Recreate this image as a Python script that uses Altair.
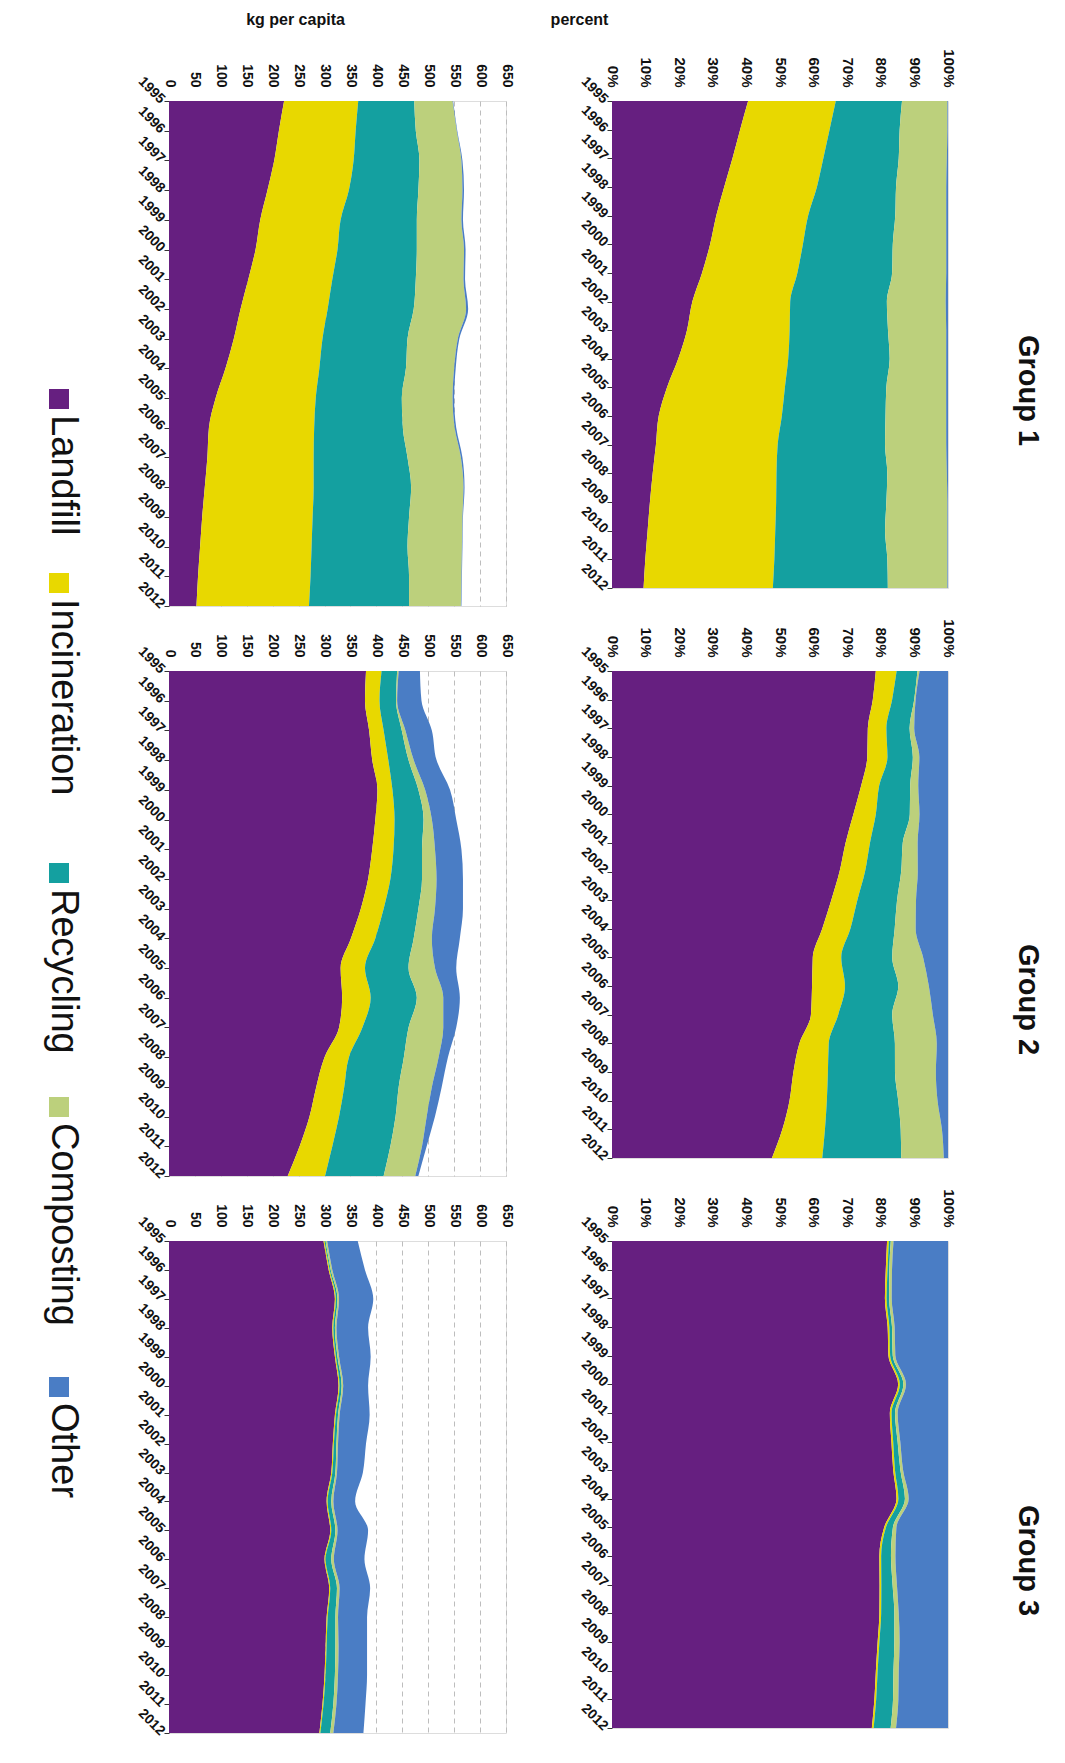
import altair as alt
import pandas as pd

years = list(range(1995, 2013))
categories = ["Landfill", "Incineration", "Recycling", "Composting", "Other"]
palette = ["#661f80", "#e8d800", "#14a0a0", "#bcd07c", "#4a7dc5"]
group_names = ["Group 1", "Group 2", "Group 3"]

# kg per capita by treatment
g1_landfill = [222, 212, 203, 190, 176, 167, 153, 138, 125, 109, 90, 77, 74, 69, 64, 60, 56, 53]
g1_incineration = [143, 148, 153, 157, 155, 158, 162, 168, 171, 181, 193, 203, 205, 210, 213, 215, 217, 217]
g1_recycling = [108, 116, 127, 134, 147, 153, 161, 166, 164, 167, 166, 171, 181, 188, 186, 185, 190, 193]
g1_composting = [74, 79, 81, 85, 86, 91, 92, 101, 97, 93, 98, 100, 103, 101, 103, 105, 101, 100]
g1_other = [1, 1, 2, 3, 3, 3, 3, 4, 3, 3, 3, 3, 3, 2, 1, 1, 1, 1]

g2_landfill = [380, 378, 386, 392, 402, 398, 392, 384, 370, 351, 331, 334, 328, 300, 284, 271, 252, 229]
g2_incineration = [30, 28, 28, 31, 29, 37, 41, 43, 44, 47, 47, 55, 45, 47, 54, 57, 63, 72]
g2_recycling = [30, 32, 35, 39, 50, 56, 55, 61, 67, 74, 84, 89, 89, 106, 105, 109, 112, 113]
g2_composting = [3, 2, 7, 10, 13, 16, 25, 28, 32, 35, 51, 51, 67, 67, 64, 60, 61, 61]
g2_other = [41, 47, 51, 44, 48, 47, 51, 51, 54, 54, 41, 32, 25, 18, 19, 16, 9, 6]

g3_landfill = [298, 308, 320, 315, 320, 327, 320, 316, 313, 304, 311, 300, 309, 304, 302, 300, 296, 290]
g3_incineration = [2, 2, 2, 2, 2, 2, 2, 2, 2, 2, 2, 2, 2, 2, 2, 2, 2, 2]
g3_recycling = [2, 2, 3, 3, 3, 4, 4, 5, 6, 7, 8, 11, 13, 15, 17, 18, 19, 19]
g3_composting = [3, 3, 3, 3, 3, 3, 3, 3, 3, 4, 4, 5, 5, 5, 6, 6, 6, 6]
g3_other = [59, 63, 66, 61, 61, 48, 58, 54, 50, 42, 59, 59, 59, 56, 55, 56, 56, 58]

kg_ticks = [0, 50, 100, 150, 200, 250, 300, 350, 400, 450, 500, 550, 600, 650]
pct_ticks = [0, 0.1, 0.2, 0.3, 0.4, 0.5, 0.6, 0.7, 0.8, 0.9, 1.0]

groups = [
    [g1_landfill, g1_incineration, g1_recycling, g1_composting, g1_other],
    [g2_landfill, g2_incineration, g2_recycling, g2_composting, g2_other],
    [g3_landfill, g3_incineration, g3_recycling, g3_composting, g3_other],
]

FONT = "Liberation Sans"


def make_df(series_list):
    rows = []
    for ci, (cat, series) in enumerate(zip(categories, series_list)):
        for yr, v in zip(years, series):
            rows.append({"year": yr, "category": cat, "order": ci, "value": v})
    return pd.DataFrame(rows).sort_values(["order", "year"])


color = alt.Color("category:N", scale=alt.Scale(domain=categories, range=palette), legend=None)

year_axis = alt.Axis(
    values=years, format="d", labelAngle=45, labelAlign="right", labelBaseline="middle",
    labelFontSize=14, labelFont=FONT, labelFontWeight="bold", labelColor="#111",
    labelOverlap=False, labelPadding=2, ticks=True, tickSize=5, tickColor="#333",
    domain=False, grid=False, title=None,
)
year_enc = alt.Y("year:Q", scale=alt.Scale(domain=[1995, 2012], reverse=True, nice=False, zero=False),
                 axis=year_axis)


def kg_panel(df, first):
    axis_kw = dict(
        orient="top", values=kg_ticks, labelAngle=90, labelAlign="right", labelBaseline="middle",
        labelFontSize=14, labelFont=FONT, labelFontWeight="bold", labelColor="#111",
        labelPadding=14, labelOverlap=False, labelFlush=False, ticks=False, domain=False,
        grid=True, gridColor="#bdbdbd", gridDash=[5, 4], gridWidth=1,
    )
    if first:
        axis_kw.update(title="kg per capita", titleAngle=0, titleX=126, titleY=-82,
                       titleAlign="center", titleBaseline="middle", titleFont=FONT,
                       titleFontSize=16, titleFontWeight="bold", titleColor="#111")
    else:
        axis_kw.update(title=None)
    x = alt.X("value:Q", stack="zero", scale=alt.Scale(domain=[0, 650], nice=False),
              axis=alt.Axis(**axis_kw))
    return alt.Chart(df).mark_area(orient="horizontal", interpolate="monotone").encode(
        x=x, y=year_enc, color=color, order=alt.Order("order:Q", sort="ascending")
    )


def pct_panel(df, height, first, name, title_dx):
    axis_kw = dict(
        orient="top", values=pct_ticks, format="%", labelAngle=90, labelAlign="right",
        labelBaseline="middle", labelFontSize=15, labelFont=FONT, labelFontWeight="bold",
        labelColor="#111", labelPadding=14, labelOverlap=False, labelFlush=False,
        ticks=False, domain=False, grid=False,
    )
    if first:
        axis_kw.update(title="percent", titleAngle=0, titleX=-33, titleY=-82,
                       titleAlign="center", titleBaseline="middle", titleFont=FONT,
                       titleFontSize=16, titleFontWeight="bold", titleColor="#111")
    else:
        axis_kw.update(title=None)
    x = alt.X("value:Q", stack="normalize", scale=alt.Scale(domain=[0, 1], nice=False),
              axis=alt.Axis(**axis_kw))
    return alt.Chart(df).mark_area(orient="horizontal", interpolate="monotone").encode(
        x=x, y=year_enc, color=color, order=alt.Order("order:Q", sort="ascending")
    ).properties(
        width=336, height=height,
        title=alt.TitleParams(text=name, orient="right", anchor="middle", angle=90,
                              font=FONT, fontSize=29, fontWeight="bold", color="#111",
                              offset=58, dx=title_dx),
    )


dfs = [make_df(g) for g in groups]
kg_heights = [505, 505, 492]
pct_heights = [487, 487, 487]
title_dx = [46, 85, 76]

# manual rotated legend, drawn to the left of the middle kg panel
legend_pos = [-272, -88, 202, 436, 716]
legend_df = pd.DataFrame({"category": categories, "pos": legend_pos})
leg_y = alt.Y("pos:Q", scale=alt.Scale(domain=[0, kg_heights[1]], reverse=True, nice=False, zero=False),
              axis=None)
leg_sq = alt.Chart(legend_df).mark_square(size=400, opacity=1).encode(
    x=alt.value(-110), y=leg_y, color=color)
leg_txt = alt.Chart(legend_df).mark_text(
    angle=90, align="left", baseline="middle", dx=16, fontSize=38, font=FONT, color="#111"
).encode(x=alt.value(-106), y=leg_y, text="category:N")

cells = []
for i in range(3):
    kg = kg_panel(dfs[i], i == 0)
    if i == 1:
        kg = alt.layer(kg, leg_sq, leg_txt).resolve_scale(y="independent")
    kg = kg.properties(width=337, height=kg_heights[i])
    cells.append(kg)
    cells.append(pct_panel(dfs[i], pct_heights[i], i == 0, group_names[i], title_dx[i]))

chart = alt.concat(*cells, columns=2, spacing={"row": 65, "column": 106}, bounds="flush").properties(
    padding={"left": 43, "top": 10, "right": 14, "bottom": 0}
).configure_view(stroke=None).configure(background="white")

chart.save("out.html", embed_options={"renderer": "svg", "actions": False})
